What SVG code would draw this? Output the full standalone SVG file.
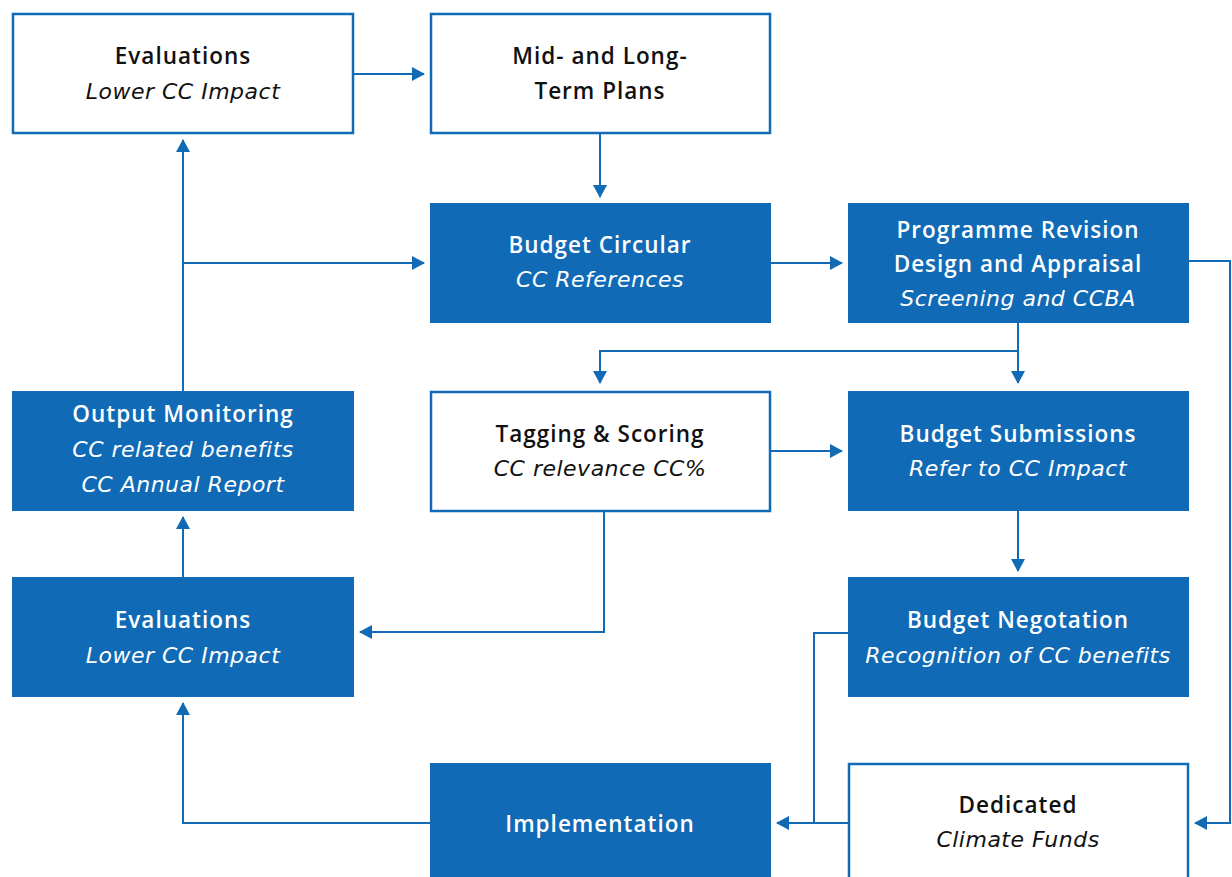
<svg xmlns="http://www.w3.org/2000/svg" width="1232" height="877" viewBox="0 0 1232 877">
<style>
.b{fill:#106ab5;stroke:none}
.w{fill:#fff;stroke:#106ab5;stroke-width:2.5}
text{font-family:"Open Sans","Liberation Sans",sans-serif;font-size:22.5px;text-anchor:middle}
.t{font-weight:600;letter-spacing:1px}
.s{font-family:"DejaVu Sans","Open Sans",sans-serif;font-style:italic;font-size:22px;letter-spacing:0.5px}
.bt{fill:#fff}
.wt{fill:#111}
.c{fill:none;stroke:#106ab5;stroke-width:2;marker-end:url(#a)}
.n{fill:none;stroke:#106ab5;stroke-width:2}
</style>
<defs>
<marker id="a" markerUnits="userSpaceOnUse" markerWidth="14" markerHeight="14" refX="12" refY="7" orient="auto">
<path d="M0,0 L13,7 L0,14 z" fill="#106ab5"/>
</marker>
</defs>
<rect width="1232" height="877" fill="#fff"/>
<g id="connectors">
<path class="c" d="M354,74 H424"/>
<path class="c" d="M600,134 V197"/>
<path class="c" d="M183,391 V140"/>
<path class="c" d="M183,263 H424"/>
<path class="c" d="M771,263 H842"/>
<path class="c" d="M1189,261 H1230 V823 H1195"/>
<path class="c" d="M1018,323 V383"/>
<path class="c" d="M1018,351 H600 V383"/>
<path class="c" d="M771,451 H842"/>
<path class="c" d="M604,511 V632 H360"/>
<path class="c" d="M183,577 V517"/>
<path class="c" d="M1018,511 V571"/>
<path class="c" d="M848,633 H814 V823 H777"/>
<path class="n" d="M848,823 H814"/>
<path class="c" d="M430,823 H183 V703"/>
</g>
<g id="eval-top"><rect class="w" x="13" y="14" width="340" height="119"/>
<text class="t wt" x="183" y="64">Evaluations</text><text class="s wt" x="183" y="99">Lower CC Impact</text></g>
<g id="plans"><rect class="w" x="431" y="14" width="339" height="119"/>
<text class="t wt" x="600" y="64">Mid- and Long-</text><text class="t wt" x="600" y="99">Term Plans</text></g>
<g id="circular"><rect class="b" x="430" y="203" width="341" height="120"/>
<text class="t bt" x="600" y="253">Budget Circular</text><text class="s bt" x="600" y="287">CC References</text></g>
<g id="programme"><rect class="b" x="848" y="203" width="341" height="120"/>
<text class="t bt" x="1018" y="238">Programme Revision</text><text class="t bt" x="1018" y="272">Design and Appraisal</text><text class="s bt" x="1018" y="306">Screening and CCBA</text></g>
<g id="output"><rect class="b" x="12" y="391" width="342" height="120"/>
<text class="t bt" x="183" y="422">Output Monitoring</text><text class="s bt" x="183" y="457">CC related benefits</text><text class="s bt" x="183" y="492">CC Annual Report</text></g>
<g id="tagging"><rect class="w" x="431" y="392" width="339" height="119"/>
<text class="t wt" x="600" y="442">Tagging &amp; Scoring</text><text class="s wt" x="600" y="476">CC relevance CC%</text></g>
<g id="submissions"><rect class="b" x="848" y="391" width="341" height="120"/>
<text class="t bt" x="1018" y="442">Budget Submissions</text><text class="s bt" x="1018" y="476">Refer to CC Impact</text></g>
<g id="eval-bottom"><rect class="b" x="12" y="577" width="342" height="120"/>
<text class="t bt" x="183" y="628">Evaluations</text><text class="s bt" x="183" y="663">Lower CC Impact</text></g>
<g id="negotation"><rect class="b" x="848" y="577" width="341" height="120"/>
<text class="t bt" x="1018" y="628">Budget Negotation</text><text class="s bt" x="1018" y="663">Recognition of CC benefits</text></g>
<g id="implementation"><rect class="b" x="430" y="763" width="341" height="120"/>
<text class="t bt" x="600" y="832">Implementation</text></g>
<g id="dedicated"><rect class="w" x="849" y="764" width="339" height="120"/>
<text class="t wt" x="1018" y="813">Dedicated</text><text class="s wt" x="1018" y="847">Climate Funds</text></g>
</svg>
